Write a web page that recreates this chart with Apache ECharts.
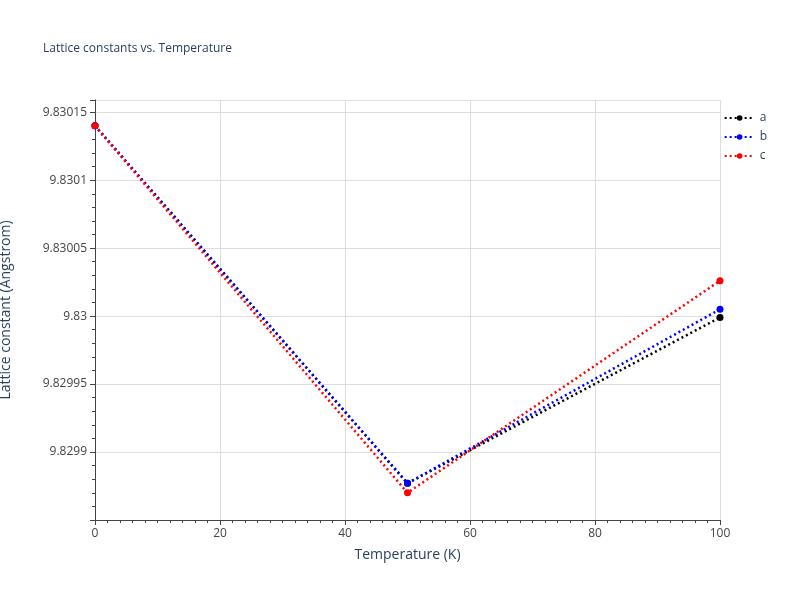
<!DOCTYPE html>
<html lang="en">
<head>
<meta charset="UTF-8">
<title>Lattice constants vs. Temperature</title>
<script src="https://cdn.jsdelivr.net/npm/echarts@6/dist/echarts.min.js"></script>
</head>
<body style="margin:0">
<div id="main" style="width:800px;height:600px;"></div>
<script>
var temps = [0, 50, 100];
var seriesA = [9.830140, 9.829877, 9.829999];
var seriesB = [9.830140, 9.829877, 9.830005];
var seriesC = [9.830140, 9.829870, 9.830026];
var names = ['a', 'b', 'c'];
var colors = ['#000000', '#0000ff', '#ff0000'];

var chart = echarts.init(document.getElementById('main'));
var font = '"Open Sans", Verdana, sans-serif';
function mk(name, vals, color) {
    return {
        name: name, type: 'line',
        data: temps.map(function (t, i) { return [t, vals[i]]; }),
        symbol: 'circle', symbolSize: 7,
        itemStyle: {color: color},
        lineStyle: {color: color, type: [2, 3], width: 2.5}
    };
}
chart.setOption({
    textStyle: {fontFamily: font},
    title: {text: 'Lattice constants vs. Temperature', left: 38, top: 38,
        textStyle: {fontSize: 12, fontWeight: 'normal', color: '#2a3f5f', fontFamily: font}},
    legend: {orient: 'vertical', right: 28, top: 107, itemGap: 7, itemWidth: 30, itemHeight: 7,
        textStyle: {color: '#2a3f5f', fontSize: 12}, data: names},
    grid: {left: 95, right: 80, top: 100, bottom: 80, containLabel: false, outerBoundsMode: 'none'},
    xAxis: {
        type: 'value', min: 0, max: 100, interval: 20,
        name: 'Temperature (K)', nameLocation: 'middle', nameGap: 28,
        nameTextStyle: {fontSize: 14, color: '#2a3f5f'},
        axisLine: {show: true, lineStyle: {color: '#444'}},
        axisTick: {show: true, length: 5, lineStyle: {color: '#444'}},
        minorTick: {show: true, splitNumber: 10, length: 3, lineStyle: {color: '#444'}},
        axisLabel: {color: '#444', fontSize: 12},
        splitLine: {lineStyle: {color: '#dddddd'}}
    },
    yAxis: {
        type: 'value', min: 9.82985, max: 9.830159, interval: 0.00005,
        name: 'Lattice constant (Angstrom)', nameLocation: 'middle', nameGap: 82,
        nameTextStyle: {fontSize: 14, color: '#2a3f5f'},
        axisLine: {show: true, lineStyle: {color: '#444'}},
        axisTick: {show: true, length: 5, lineStyle: {color: '#444'}},
        minorTick: {show: true, splitNumber: 5, length: 3, lineStyle: {color: '#444'}},
        axisLabel: {color: '#444', fontSize: 12, showMinLabel: false, showMaxLabel: false,
            formatter: function (v) { return String(+v.toFixed(5)); }},
        splitLine: {lineStyle: {color: '#dddddd'}}
    },
    series: [mk('a', seriesA, colors[0]), mk('b', seriesB, colors[1]), mk('c', seriesC, colors[2])]
});
</script>
</body>
</html>
